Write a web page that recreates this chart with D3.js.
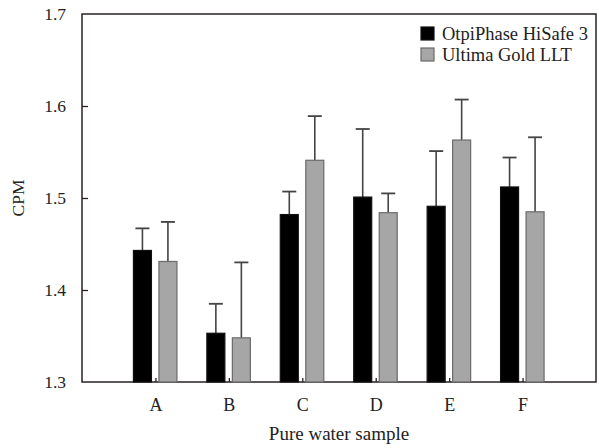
<!DOCTYPE html>
<html>
<head>
<meta charset="utf-8">
<script src="https://cdn.jsdelivr.net/npm/d3@7"></script>
<style>
  body { margin: 0; background: #fff; }
  text { font-family: "Liberation Serif", "Times New Roman", serif; fill: #222; }
</style>
</head>
<body>
<svg id="chart" width="599" height="448"></svg>
<script>
var categories = ['A', 'B', 'C', 'D', 'E', 'F'];
var seriesNames = ['OtpiPhase HiSafe 3', 'Ultima Gold LLT'];
var hisafeMean = [1.443, 1.353, 1.482, 1.501, 1.491, 1.512];
var hisafeErr  = [0.024, 0.032, 0.025, 0.074, 0.060, 0.032];
var ultimaMean = [1.431, 1.348, 1.541, 1.484, 1.563, 1.485];
var ultimaErr  = [0.043, 0.082, 0.048, 0.021, 0.044, 0.081];
var yTicks = [1.3, 1.4, 1.5, 1.6, 1.7];

var fills = ['#000000', '#a6a6a6'];
var strokes = ['#111111', '#6a6a6a'];

var margin = {left: 82, right: 3, top: 14, bottom: 66};
var width = 599, height = 448;
var svg = d3.select('#chart');

var x = d3.scaleLinear().domain([0, categories.length + 1]).range([margin.left, width - margin.right]);
var y = d3.scaleLinear().domain([1.3, 1.7]).range([height - margin.bottom, margin.top]);

var series = [
  {name: seriesNames[0], mean: hisafeMean, err: hisafeErr, offset: -13},
  {name: seriesNames[1], mean: ultimaMean, err: ultimaErr, offset: 12.5}
];
var barW = 18;

// frame
svg.append('rect')
  .attr('x', x(0)).attr('y', y(1.7))
  .attr('width', x(7) - x(0)).attr('height', y(1.3) - y(1.7))
  .attr('fill', 'none').attr('stroke', '#2a2222').attr('stroke-width', 1.5);

// y axis
var yAxis = d3.axisLeft(y).tickValues(yTicks).tickFormat(d3.format('.1f')).tickSize(-6).tickPadding(16);
var gy = svg.append('g').attr('transform', 'translate(' + x(0) + ',0)').call(yAxis);
gy.select('.domain').remove();
gy.selectAll('line').attr('stroke', '#2a2222').attr('stroke-width', 1.3);
gy.selectAll('text').style('font-size', '17.5px').attr('fill', '#222');
gy.selectAll('.tick').filter(function(d){ return d === 1.3 || d === 1.7; }).select('line').remove();

// x axis
var xAxis = d3.axisBottom(x).tickValues(d3.range(1, categories.length + 1))
  .tickFormat(function(d){ return categories[d - 1]; }).tickSize(-4).tickPadding(16);
var gx = svg.append('g').attr('transform', 'translate(0,' + y(1.3) + ')').call(xAxis);
gx.select('.domain').remove();
gx.selectAll('line').attr('stroke', '#2a2222').attr('stroke-width', 1.3);
gx.selectAll('text').style('font-size', '18px').attr('fill', '#222');

// bars and error bars
series.forEach(function(s, si){
  var g = svg.append('g');
  categories.forEach(function(c, i){
    var cx = x(i + 1) + s.offset;
    g.append('line')
      .attr('x1', cx).attr('x2', cx)
      .attr('y1', y(s.mean[i])).attr('y2', y(s.mean[i] + s.err[i]))
      .attr('stroke', '#444').attr('stroke-width', 1.6);
    g.append('line')
      .attr('x1', cx - 7).attr('x2', cx + 7)
      .attr('y1', y(s.mean[i] + s.err[i])).attr('y2', y(s.mean[i] + s.err[i]))
      .attr('stroke', '#444').attr('stroke-width', 1.8);
    g.append('rect')
      .attr('x', cx - barW / 2).attr('y', y(s.mean[i]))
      .attr('width', barW).attr('height', y(1.3) - y(s.mean[i]))
      .attr('fill', fills[si]).attr('stroke', strokes[si]).attr('stroke-width', 1.2);
  });
});

// legend
var legend = svg.append('g').attr('transform', 'translate(421,27)');
seriesNames.forEach(function(n, i){
  legend.append('rect').attr('x', 0).attr('y', i * 21).attr('width', 13).attr('height', 13)
    .attr('fill', fills[i]).attr('stroke', strokes[i]).attr('stroke-width', 1.2);
  legend.append('text').attr('x', 21).attr('y', i * 21 + 13).text(n).style('font-size', '18.5px');
});

// axis titles
svg.append('text').attr('x', (x(0) + x(7)) / 2).attr('y', 440)
  .attr('text-anchor', 'middle').style('font-size', '19px').text('Pure water sample');
svg.append('text').attr('transform', 'translate(24,' + (y(1.5)) + ') rotate(-90)')
  .attr('text-anchor', 'middle').style('font-size', '17.5px').text('CPM');
</script>
</body>
</html>
